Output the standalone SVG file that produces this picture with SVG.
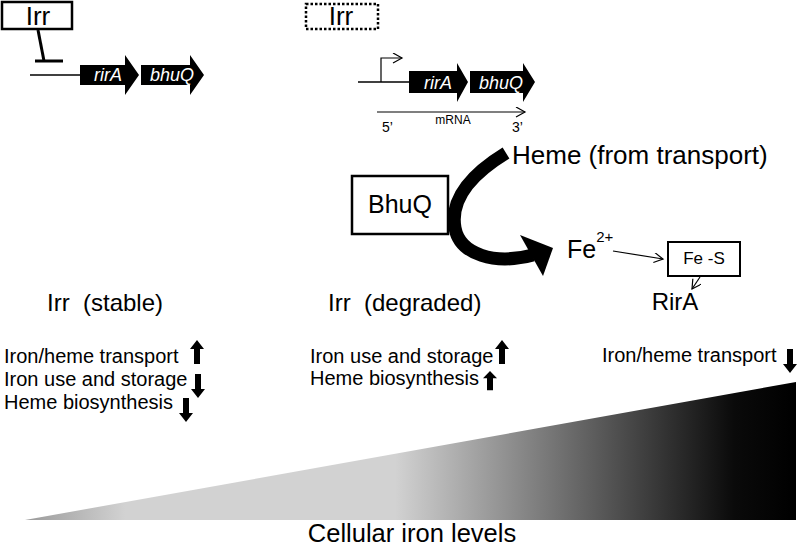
<svg xmlns="http://www.w3.org/2000/svg" width="800" height="549" viewBox="0 0 800 549">
<style>
text{font-family:"Liberation Sans",Arial,sans-serif;fill:#000}
.gene{fill:#000}
.gt{font-style:italic;fill:#fff;font-size:18px}
.thin{fill:none;stroke:#000;stroke-width:1.2}
.box{fill:#fff;stroke:#000;stroke-width:2.5}
.lst{font-size:20px}
.big{font-size:24px}
</style>
<defs>
<linearGradient id="iron" gradientUnits="userSpaceOnUse" x1="25" y1="0" x2="796" y2="0">
<stop offset="0" stop-color="#9a9a9a"/>
<stop offset="0.13" stop-color="#d2d2d2"/>
<stop offset="0.48" stop-color="#d2d2d2"/>
<stop offset="0.92" stop-color="#0a0a0a"/>
<stop offset="1" stop-color="#000"/>
</linearGradient>
<marker id="open" markerWidth="12" markerHeight="12" refX="10" refY="5" orient="auto" markerUnits="userSpaceOnUse">
<path d="M1,0 L10,5 L1,10" fill="none" stroke="#000" stroke-width="1.2"/>
</marker>
<path id="up" d="M0,0 L7,9 L3,9 L3,24 L-3,24 L-3,9 L-7,9 Z" fill="#000"/>
</defs>

<!-- gradient wedge -->
<polygon id="wedge" points="25,520 796,382 796,520" fill="url(#iron)"/>
<text x="412" y="542" text-anchor="middle" style="font-size:25.5px">Cellular iron levels</text>

<!-- left operon (repressed) -->
<g id="irr-left">
<rect class="box" x="2" y="2" width="70" height="27"/>
<text x="38" y="25" text-anchor="middle" style="font-size:26px">Irr</text>
</g>
<g id="operon-left">
<line x1="30" y1="75" x2="80" y2="75" stroke="#000" stroke-width="1.5"/>
<path class="gene" d="M80,65 L125,65 L125,55 L139,75 L125,95 L125,85 L80,85 Z"/>
<path class="gene" d="M141,65 L190,65 L190,55 L204,75 L190,95 L190,85 L141,85 Z"/>
<text class="gt" x="108" y="81" text-anchor="middle">rirA</text>
<text class="gt" x="172" y="81" text-anchor="middle">bhuQ</text>
</g>

<!-- middle operon (expressed) -->
<g id="irr-mid">
<rect x="306" y="4" width="72" height="25" fill="#fff" stroke="#000" stroke-width="2.5" stroke-dasharray="2.5,2"/>
<text x="341" y="25" text-anchor="middle" style="font-size:26px">Irr</text>
</g>
<g id="operon-mid">
<line x1="358" y1="82" x2="409" y2="82" stroke="#000" stroke-width="1.5"/>
<path class="gene" d="M409,71 L457,71 L457,63 L468,82 L457,102 L457,93 L409,93 Z"/>
<path class="gene" d="M470,71 L523,71 L523,63 L535,82 L523,102 L523,93 L470,93 Z"/>
<text class="gt" x="438" y="89" text-anchor="middle">rirA</text>
<text class="gt" x="501" y="89" text-anchor="middle">bhuQ</text>
<text x="382" y="132" font-size="14">5’</text>
<text x="453" y="124" font-size="12" text-anchor="middle">mRNA</text>
<text x="512" y="132" font-size="14">3’</text>
</g>

<g id="bhuq">
<rect class="box" x="352" y="176" width="96" height="58"/>
<text x="400" y="213" text-anchor="middle" style="font-size:25px">BhuQ</text>
</g>
<g id="heme"><text x="512" y="164" style="font-size:26px">Heme (from transport)</text></g>
<g id="fe"><text x="567" y="258" style="font-size:25px">Fe<tspan dy="-16" style="font-size:15px">2+</tspan></text></g>
<g id="fes">
<rect x="668" y="242" width="72" height="34" fill="#fff" stroke="#000" stroke-width="2"/>
<text x="704" y="264" text-anchor="middle" style="font-size:17px">Fe -S</text>
</g>
<g id="rira"><text class="big" x="675" y="310" text-anchor="middle">RirA</text></g>

<g id="connectors">
<line x1="38" y1="30" x2="44" y2="61" stroke="#000" stroke-width="3"/>
<line x1="35" y1="61" x2="63" y2="61" stroke="#000" stroke-width="3"/>
<path class="thin" d="M381,82 L381,58 L402,58" marker-end="url(#open)"/>
<line class="thin" x1="377" y1="112" x2="525" y2="112" marker-end="url(#open)"/>
<path d="M506,153 C470,175 450,200 455,228 C460,255 495,265 533,255" fill="none" stroke="#000" stroke-width="13"/>
<polygon points="520,235 553,248 543,276" fill="#000"/>
<line class="thin" x1="613" y1="251" x2="663" y2="259" marker-end="url(#open)"/>
<line class="thin" x1="700" y1="277" x2="692" y2="289" marker-end="url(#open)"/>
</g>

<g id="col-left">
<text class="big" x="47" y="311" xml:space="preserve">Irr  (stable)</text>
<text class="lst" x="4" y="363">Iron/heme transport</text>
<text class="lst" x="4" y="386">Iron use and storage</text>
<text class="lst" x="4" y="409">Heme biosynthesis</text>
<use href="#up" x="197" y="340"/>
<use href="#up" transform="translate(198,398) rotate(180)"/>
<use href="#up" transform="translate(186,422) rotate(180)"/>
</g>
<g id="col-mid">
<text class="big" x="328" y="311" xml:space="preserve">Irr  (degraded)</text>
<text class="lst" x="310" y="363">Iron use and storage</text>
<text class="lst" x="310" y="385">Heme biosynthesis</text>
<use href="#up" x="502" y="340"/>
<use href="#up" transform="translate(490,371) scale(1,0.8)"/>
</g>
<g id="col-right">
<text class="lst" x="602" y="362">Iron/heme transport</text>
<use href="#up" transform="translate(790,373) rotate(180)"/>
</g>
</svg>
